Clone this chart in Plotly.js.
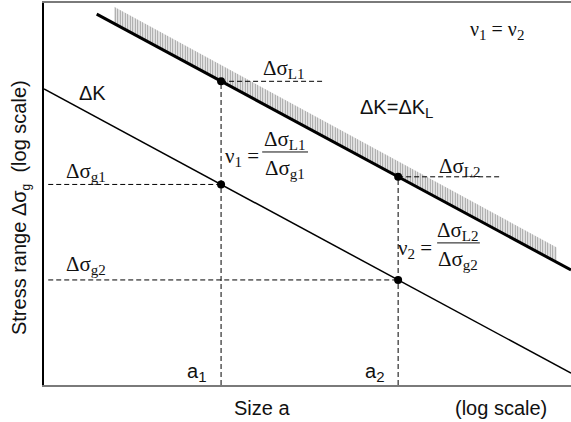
<!DOCTYPE html>
<html>
<head>
<meta charset="utf-8">
<script src="https://cdn.plot.ly/plotly-3.0.1.min.js"></script>
<style>
  html, body { margin: 0; padding: 0; background: #fff; }
  #chart { width: 571px; height: 422px; }
</style>
</head>
<body>
<div id="chart"></div>
<script>
// Schematic in log units: x = log crack size, y = log stress range.
// Threshold line dK = dK_L (upper, thick) and a constant dK line (lower, thin).
const limitX = [1.0, 10.0];
const limitY = [9.71, 3.01];
const kLineX = [0.0, 10.0];
const kLineY = [7.75, 0.31];

// Hatched band along the threshold line (base on the line, fixed height)
const hatchX = [1.33, 9.73];
const hatchBase = [9.48, 3.18];
const hatchHeight = 0.42;

// Two crack sizes and the stress ranges read at them
const sizeA = [3.36, 6.72];            // a1, a2
const stressL = [7.95, 5.45];          // dsigma_L1, dsigma_L2
const stressG = [5.25, 2.75];          // dsigma_g1, dsigma_g2

// subscript helper with a slightly larger index than the default
function sub(s, px) { return '<sub><span style="font-size:' + px + 'px">' + s + '</span></sub>'; }
const sizeLabels = ['a' + sub('1', 15), 'a' + sub('2', 15)];
const limitLabels = ['Δσ' + sub('L1', 15), 'Δσ' + sub('L2', 15)];
const gLabels = ['Δσ' + sub('g1', 15), 'Δσ' + sub('g2', 15)];

// Extent of the dashed guides
const guideLeft = 0.08;
const guideRightL = [5.3, 8.65];

const SANS = 'Liberation Sans, Arial, sans-serif';
const SERIF = 'Liberation Serif, Times New Roman, serif';
const dashStyle = { color: '#000', width: 1, dash: '5px,3px' };

const traces = [];

// hatch band
traces.push({
  x: [hatchX[0], hatchX[1], hatchX[1], hatchX[0], hatchX[0]],
  y: [hatchBase[0] + 0.02, hatchBase[1] + 0.02, hatchBase[1] + hatchHeight, hatchBase[0] + hatchHeight, hatchBase[0] + 0.02],
  mode: 'lines', fill: 'toself', line: { width: 0, color: 'rgba(0,0,0,0)' },
  fillcolor: 'rgba(0,0,0,0)',
  fillpattern: { shape: '|', size: 2.5, solidity: 0.5, fgcolor: '#9a9a9a', bgcolor: 'rgba(255,255,255,0)' },
  hoverinfo: 'skip'
});

// dashed guides
for (let i = 0; i < sizeA.length; i++) {
  traces.push({ x: [sizeA[i], sizeA[i]], y: [0, stressL[i]], mode: 'lines', line: dashStyle, hoverinfo: 'skip' });
  traces.push({ x: [sizeA[i], guideRightL[i]], y: [stressL[i], stressL[i]], mode: 'lines', line: dashStyle, hoverinfo: 'skip' });
  traces.push({ x: [guideLeft, sizeA[i]], y: [stressG[i], stressG[i]], mode: 'lines', line: dashStyle, hoverinfo: 'skip' });
}

// lines
traces.push({ x: limitX, y: limitY, mode: 'lines', line: { color: '#000', width: 3 }, hoverinfo: 'skip' });
traces.push({ x: kLineX, y: kLineY, mode: 'lines', line: { color: '#000', width: 1.5 }, hoverinfo: 'skip' });

// intersection dots
traces.push({
  x: sizeA.concat(sizeA), y: stressL.concat(stressG), mode: 'markers',
  marker: { color: '#000', size: 8 }, hoverinfo: 'skip', cliponaxis: false
});

const ann = [];
function txt(text, x, y, size, family, xanchor, extra) {
  ann.push(Object.assign({ text: text, x: x, y: y, xref: 'x', yref: 'y', showarrow: false,
    xanchor: xanchor || 'left', yanchor: 'middle', font: { size: size, family: family, color: '#111' } }, extra || {}));
}

txt('ΔK', 0.63, 7.64, 20, SANS);
txt('ΔK=ΔK' + sub('L', 15), 5.96, 7.25, 20, SANS);
txt('ν' + sub('1', 15) + ' = ν' + sub('2', 15), 8.05, 9.29, 20, SERIF);
txt(limitLabels[0], 4.12, 8.28, 21, SERIF);
txt(limitLabels[1], 7.45, 5.71, 21, SERIF);
txt(gLabels[0], 0.38, 5.58, 21, SERIF);
txt(gLabels[1], 0.38, 3.14, 21, SERIF);
txt(sizeLabels[0], 3.12, 0.34, 20, SANS, 'right');
txt(sizeLabels[1], 6.49, 0.34, 20, SANS, 'right');

// ratio formulas
txt('ν' + sub('1', 15) + ' =', 3.39, 5.97, 21, SERIF);
txt(limitLabels[0], 4.57, 6.42, 21, SERIF, 'center');
txt(gLabels[0], 4.57, 5.66, 21, SERIF, 'center');
txt('ν' + sub('2', 15) + ' =', 6.68, 3.55, 21, SERIF);
txt(limitLabels[1], 7.86, 4.03, 21, SERIF, 'center');
txt(gLabels[1], 7.86, 3.28, 21, SERIF, 'center');

// axis titles (paper coordinates, outside the plot area)
function ptxt(text, x, y, size, extra) {
  ann.push(Object.assign({ text: text, x: x, y: y, xref: 'paper', yref: 'paper', showarrow: false,
    xanchor: 'center', yanchor: 'middle', font: { size: size, family: SANS, color: '#111' } }, extra || {}));
}
ptxt('Size a', 0.414, -0.06, 20);
ptxt('(log scale)', 0.867, -0.06, 20);
ptxt('Stress range Δσ' + sub('g', 12) + '  (log scale)', -0.045, 0.464, 20, { textangle: -90 });

const shapes = [
  { type: 'line', xref: 'x', yref: 'y', x0: 4.14, x1: 5.01, y0: 6.10, y1: 6.10, line: { color: '#111', width: 1 } },
  { type: 'line', xref: 'x', yref: 'y', x0: 7.46, x1: 8.27, y0: 3.72, y1: 3.72, line: { color: '#111', width: 1 } }
];

const layout = {
  width: 571, height: 422,
  margin: { l: 44, r: 0, t: 3, b: 37, pad: 0 },
  paper_bgcolor: '#fff', plot_bgcolor: '#fff',
  showlegend: false,
  xaxis: { range: [0, 10], showgrid: false, zeroline: false, showticklabels: false, ticks: '',
    showline: true, linecolor: '#7a7a7a', linewidth: 2, mirror: true, fixedrange: true },
  yaxis: { range: [0, 10], showgrid: false, zeroline: false, showticklabels: false, ticks: '',
    showline: true, linecolor: '#000', linewidth: 2.5, fixedrange: true },
  annotations: ann,
  shapes: shapes
};

Plotly.newPlot('chart', traces, layout, { displayModeBar: false, staticPlot: true });
</script>
</body>
</html>
